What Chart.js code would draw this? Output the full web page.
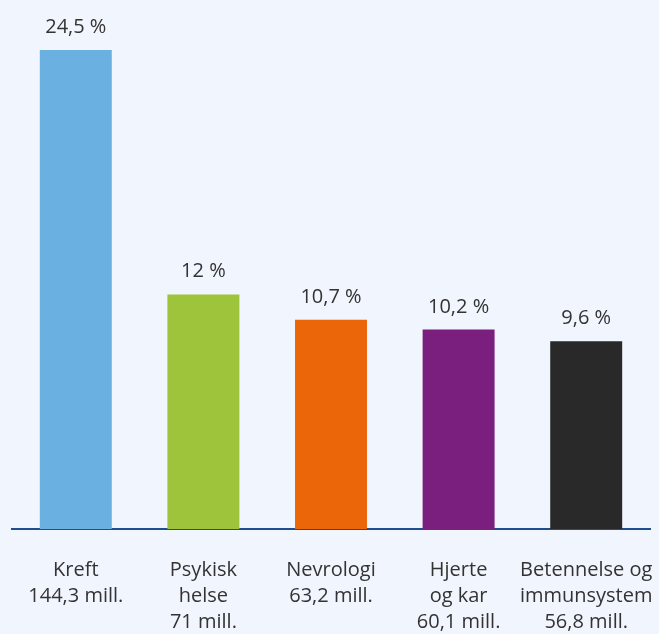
<!DOCTYPE html>
<html>
<head>
<meta charset="utf-8">
<script src="https://cdn.jsdelivr.net/npm/chart.js@4"></script>
<style>
  html, body { margin: 0; padding: 0; background: #f1f5fd; }
  #wrap { width: 659px; height: 634px; }
</style>
</head>
<body>
<div id="wrap"><canvas id="chart" width="659" height="634"></canvas></div>
<script>
// Andel av midlene per fagområde
const labels = [
  ['Kreft', '144,3 mill.'],
  ['Psykisk', 'helse', '71 mill.'],
  ['Nevrologi', '63,2 mill.'],
  ['Hjerte', 'og kar', '60,1 mill.'],
  ['Betennelse og', 'immunsystem', '56,8 mill.']
];
const shares = [24.5, 12, 10.7, 10.2, 9.6];
const colors = ['#6ab0e0', '#9dc43a', '#eb6509', '#7b1f7f', '#292929'];

const textFont = { family: '"Open Sans", "Noto Sans", sans-serif', size: 20 };

// skriver prosenten over hver søyle
const valueLabels = {
  id: 'valueLabels',
  afterDatasetsDraw(chart) {
    const ctx = chart.ctx;
    const meta = chart.getDatasetMeta(0);
    ctx.save();
    ctx.font = textFont.size + 'px ' + textFont.family;
    ctx.fillStyle = '#333333';
    ctx.textAlign = 'center';
    ctx.textBaseline = 'alphabetic';
    meta.data.forEach((bar, i) => {
      const txt = String(shares[i]).replace('.', ',') + ' %';
      ctx.fillText(txt, bar.x, bar.y - 17);
    });
    ctx.restore();
  }
};

new Chart(document.getElementById('chart'), {
  type: 'bar',
  data: {
    labels,
    datasets: [{
      data: shares,
      backgroundColor: colors,
      borderWidth: 0,
      barPercentage: 0.564,
      categoryPercentage: 1
    }]
  },
  options: {
    responsive: false,
    animation: false,
    layout: { padding: { top: 50, left: 12, right: 9, bottom: 0 } },
    plugins: { legend: { display: false }, tooltip: { enabled: false } },
    scales: {
      x: {
        grid: { display: false, drawTicks: false },
        border: { display: true, color: '#1f4e8c', width: 2 },
        ticks: {
          color: '#333333',
          font: { ...textFont, lineHeight: 1.3 },
          padding: 28,
          maxRotation: 0,
          autoSkip: false
        },
        // fast høyde på aksen, og ingen ekstra sidemarg for lange etiketter
        afterFit(scale) {
          scale.height = 105;
          scale.paddingLeft = 0;
          scale.paddingRight = 0;
        }
      },
      y: {
        display: false,
        min: 0,
        max: 24.5
      }
    }
  },
  plugins: [valueLabels]
});
</script>
</body>
</html>
